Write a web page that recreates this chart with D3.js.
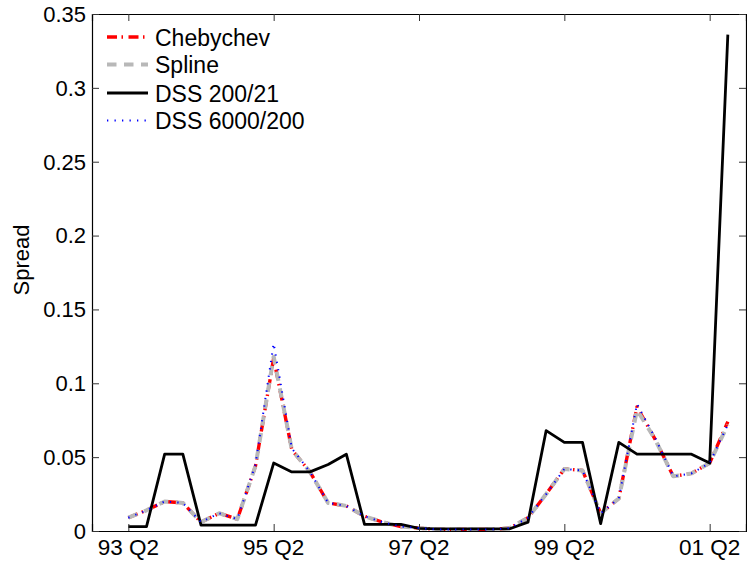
<!DOCTYPE html>
<html>
<head>
<meta charset="utf-8">
<script src="https://cdn.jsdelivr.net/npm/d3@7"></script>
<style>
    body { margin: 0; background: #fff; }
    text { font-family: "Liberation Sans", Arial, Helvetica, sans-serif; fill: #000; }
</style>
</head>
<body>
<script>
// quarters 93 Q2 .. 01 Q3
let quarters = [
    "93 Q2", "93 Q3", "93 Q4", "94 Q1", "94 Q2", "94 Q3", "94 Q4", "95 Q1",
    "95 Q2", "95 Q3", "95 Q4", "96 Q1", "96 Q2", "96 Q3", "96 Q4", "97 Q1",
    "97 Q2", "97 Q3", "97 Q4", "98 Q1", "98 Q2", "98 Q3", "98 Q4", "99 Q1",
    "99 Q2", "99 Q3", "99 Q4", "00 Q1", "00 Q2", "00 Q3", "00 Q4", "01 Q1",
    "01 Q2", "01 Q3"
];

let xTickLabels = ["93 Q2", "95 Q2", "97 Q2", "99 Q2", "01 Q2"];
let yTicks = [0, 0.05, 0.1, 0.15, 0.2, 0.25, 0.3, 0.35];

let chebychev = [
    0.009, 0.014, 0.020, 0.019, 0.006, 0.012, 0.008, 0.044,
    0.117, 0.055, 0.040, 0.019, 0.017, 0.010, 0.006, 0.003,
    0.002, 0.001, 0.001, 0.001, 0.001, 0.002, 0.009, 0.025,
    0.042, 0.041, 0.012, 0.022, 0.084, 0.062, 0.037, 0.039,
    0.046, 0.074
];
let spline = [
    0.009, 0.014, 0.020, 0.019, 0.006, 0.012, 0.008, 0.044,
    0.118, 0.055, 0.040, 0.019, 0.017, 0.010, 0.006, 0.003,
    0.002, 0.001, 0.001, 0.001, 0.001, 0.002, 0.009, 0.025,
    0.042, 0.041, 0.012, 0.022, 0.082, 0.062, 0.037, 0.039,
    0.046, 0.072
];
let dss21 = [
    0.003, 0.003, 0.052, 0.052, 0.004, 0.004, 0.004, 0.004,
    0.046, 0.040, 0.040, 0.045, 0.052, 0.0045, 0.0045, 0.0045,
    0.0018, 0.0015, 0.0015, 0.0015, 0.0015, 0.0015, 0.006, 0.068,
    0.060, 0.060, 0.005, 0.060, 0.052, 0.052, 0.052, 0.052,
    0.046, 0.336
];
let dss200 = [
    0.009, 0.014, 0.020, 0.019, 0.006, 0.012, 0.008, 0.045,
    0.127, 0.056, 0.040, 0.019, 0.017, 0.010, 0.006, 0.003,
    0.002, 0.001, 0.001, 0.001, 0.001, 0.002, 0.009, 0.025,
    0.042, 0.041, 0.012, 0.022, 0.086, 0.063, 0.037, 0.039,
    0.046, 0.072
];

let seriesNames = ["Chebychev", "Spline", "DSS 200/21", "DSS 6000/200"];

let width = 747,
    height = 563;

let margin = {left: 92, right: 1, top: 14, bottom: 32};

let svg = d3.select("body").append("svg")
    .attr("width", width)
    .attr("height", height);

let x = d3.scaleLinear()
    .domain([-2, quarters.length])
    .range([margin.left, width - margin.right]);

let y = d3.scaleLinear()
    .domain([0, 0.35])
    .range([height - margin.bottom, margin.top]);

// line styles, matlab look
let styles = [
    {data: chebychev, color: "#ff0000", w: 3.4, dash: "10,4.5,1.5,5.5"},
    {data: spline, color: "#b8b8b8", w: 4, dash: "9.5,7.5"},
    {data: dss21, color: "#000000", w: 2.8, dash: null},
    {data: dss200, color: "#0000ff", w: 2, dash: "1.3,6.2"}
];

let line = d3.line()
    .x((d, i) => x(i))
    .y(d => y(d));

let plot = svg.append("g").attr("class", "lines");

styles.forEach(s => {
    plot.append("path")
        .datum(s.data)
        .attr("fill", "none")
        .attr("stroke", s.color)
        .attr("stroke-width", s.w)
        .attr("stroke-dasharray", s.dash)
        .attr("stroke-linejoin", "round")
        .attr("d", line);
});

// axes box with inner ticks on all sides
let xTickVals = xTickLabels.map(t => quarters.indexOf(t));

let xAxisB = d3.axisBottom(x).tickValues(xTickVals).tickSize(-7).tickFormat("");
let xAxisT = d3.axisTop(x).tickValues(xTickVals).tickSize(-7).tickFormat("");
let yAxisL = d3.axisLeft(y).tickValues(yTicks).tickSize(-7).tickFormat("");
let yAxisR = d3.axisRight(y).tickValues(yTicks).tickSize(-7).tickFormat("");

let axes = [
    svg.append("g").attr("transform", `translate(0,${y(0)})`).call(xAxisB),
    svg.append("g").attr("transform", `translate(0,${y(0.35)})`).call(xAxisT),
    svg.append("g").attr("transform", `translate(${x(-2)},0)`).call(yAxisL),
    svg.append("g").attr("transform", `translate(${x(quarters.length)},0)`).call(yAxisR)
];
axes.forEach(a => {
    a.select(".domain").attr("stroke", "#000").attr("stroke-width", 1.2);
    a.selectAll(".tick line").attr("stroke", "#333").attr("stroke-width", 1);
});

// tick labels
svg.append("g").selectAll("text")
    .data(xTickLabels)
    .enter().append("text")
    .attr("x", d => x(quarters.indexOf(d)))
    .attr("y", 555)
    .attr("text-anchor", "middle")
    .style("font-size", "22.5px")
    .text(d => d);

svg.append("g").selectAll("text")
    .data(yTicks)
    .enter().append("text")
    .attr("x", 86)
    .attr("y", d => y(d))
    .attr("dy", "0.36em")
    .attr("text-anchor", "end")
    .style("font-size", "22px")
    .text(d => d === 0 ? "0" : d3.format("")(+d.toFixed(2)));

svg.append("text")
    .attr("transform", `translate(29,260) rotate(-90)`)
    .attr("text-anchor", "middle")
    .style("font-size", "22px")
    .text("Spread");

// legend, no box
let legend = svg.append("g").attr("class", "legend");
let rowY = [37, 64.5, 93, 120.5];

styles.forEach((s, i) => {
    legend.append("line")
        .attr("x1", 107).attr("x2", 148)
        .attr("y1", rowY[i]).attr("y2", rowY[i])
        .attr("stroke", s.color)
        .attr("stroke-width", s.w)
        .attr("stroke-dasharray", s.dash);
    legend.append("text")
        .attr("x", 155)
        .attr("y", rowY[i] + 8.5)
        .style("font-size", "23px")
        .text(seriesNames[i]);
});
</script>
</body>
</html>
